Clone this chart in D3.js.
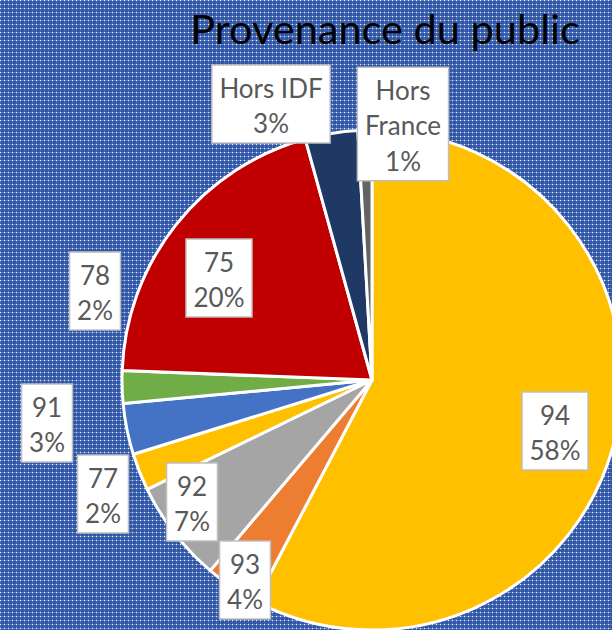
<!DOCTYPE html>
<html lang="fr">
<head>
    <meta charset="UTF-8">
    <title>Provenance du public</title>
    <style>
        body {
            margin: 0;
            overflow: hidden;
            font-family: Lato, "Open Sans", sans-serif;
        }
    </style>
</head>
<body>
    <svg id="chart" width="612" height="630"></svg>
    <script src="https://cdn.jsdelivr.net/npm/d3@7"></script>
    <script>
        // slices in drawing order, clockwise from 12 o'clock
        const categories = ["94", "93", "92", "77", "91", "78", "75", "Hors IDF", "Hors France"];
        const shares = [57.7, 3.5, 6.6, 2.4, 3.3, 2.1, 20.1, 3.4, 0.9];
        const colors = ["#FFC000", "#ED7D31", "#A5A5A5", "#FFC000", "#4472C4", "#70AD47", "#C00000", "#203864", "#636363"];
        // how each label breaks into lines (category part)
        const labelLines = [["94"], ["93"], ["92"], ["77"], ["91"], ["78"], ["75"], ["Hors IDF"], ["Hors", "France"]];
        // label box centres, relative to the pie centre
        const labelOffsets = [[183, 51], [-127, 200], [-180, 122], [-269, 114], [-325, 43], [-277, -89], [-153, -102], [-101, -276], [31, -256]];

        const width = 612, height = 630;
        const cx = 372, cy = 380, radius = 250;

        const svg = d3.select("#chart");

        // blue dotted background
        const defs = svg.append("defs");
        const pat = defs.append("pattern")
            .attr("id", "dots")
            .attr("width", 4)
            .attr("height", 4)
            .attr("patternUnits", "userSpaceOnUse");
        pat.append("rect").attr("width", 4).attr("height", 4).attr("fill", "#3056A8");
        pat.append("rect").attr("width", 4).attr("height", 1).attr("fill", "#fff").attr("opacity", 0.22);
        pat.append("rect").attr("width", 1).attr("height", 4).attr("fill", "#fff").attr("opacity", 0.14);
        pat.append("rect").attr("width", 1).attr("height", 1).attr("fill", "#fff").attr("opacity", 0.85);

        svg.append("rect")
            .attr("width", width)
            .attr("height", height)
            .attr("fill", "url(#dots)");

        const data = categories.map((c, i) => ({ name: c, value: shares[i], color: colors[i], lines: labelLines[i], off: labelOffsets[i] }));

        const pie = d3.pie().sort(null).value(d => d.value);
        const arc = d3.arc().innerRadius(0).outerRadius(radius);

        const g = svg.append("g").attr("transform", `translate(${cx},${cy})`);

        g.selectAll("path")
            .data(pie(data))
            .join("path")
            .attr("d", arc)
            .attr("fill", d => d.data.color)
            .attr("stroke", "#fff")
            .attr("stroke-width", 3)
            .attr("stroke-linejoin", "round");

        // data labels: white boxes with category and percentage
        const lineH = 35.5;
        const total = d3.sum(shares);
        const labels = g.selectAll("g.label")
            .data(data)
            .join("g")
            .attr("class", "label")
            .attr("transform", d => `translate(${d.off[0]},${d.off[1]})`);

        labels.each(function (d) {
            const sel = d3.select(this);
            const lines = d.lines.concat([Math.round(d.value / total * 100) + "%"]);
            const box = sel.append("rect")
                .attr("fill", "#fff")
                .attr("stroke", "#BFBFBF")
                .attr("stroke-width", 1.5);
            const h = lines.length * lineH + 7;
            const t = sel.append("text")
                .attr("text-anchor", "middle")
                .attr("fill", "#595959")
                .attr("font-size", 26);
            lines.forEach((l, i) => {
                t.append("tspan")
                    .attr("x", 0)
                    .attr("y", -h / 2 + 5.5 + lineH * (i + 0.5))
                    .attr("dy", "0.36em")
                    .text(l);
            });
            const w = t.node().getBBox().width + 15;
            box.attr("x", -w / 2).attr("y", -h / 2).attr("width", w).attr("height", h);
        });

        svg.append("text")
            .attr("x", 385)
            .attr("y", 44)
            .attr("text-anchor", "middle")
            .attr("font-size", 41.5)
            .attr("fill", "#000")
            .text("Provenance du public");
    </script>
</body>
</html>
